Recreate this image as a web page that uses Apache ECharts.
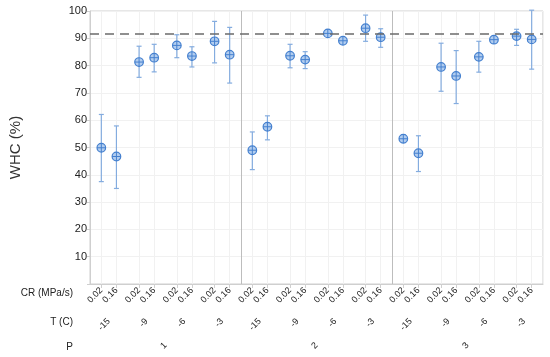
<!DOCTYPE html>
<html>
<head>
<meta charset="utf-8">
<script src="https://cdn.jsdelivr.net/npm/echarts@6/dist/echarts.min.js"></script>
<style>html,body{margin:0;padding:0;background:#fff;}#c{width:550px;height:357px;}</style>
</head>
<body>
<div id="c"></div>
<script>
// ---- data ----
const pLevels = ['1', '2', '3'];
const tLevels = ['-15', '-9', '-6', '-3'];
const crLevels = ['0.02', '0.16'];
const yTicks = [10, 20, 30, 40, 50, 60, 70, 80, 90, 100];
const refLine = 91.5;
const whcMean = [49.9, 46.7, 81.3, 82.9, 87.4, 83.5, 88.9, 84.0,
                 49.0, 57.6, 83.6, 82.2, 91.8, 89.1, 93.7, 90.4,
                 53.2, 47.9, 79.5, 76.2, 83.2, 89.5, 90.8, 89.6];
const whcLow  = [37.5, 35.0, 75.7, 77.7, 82.9, 79.5, 81.0, 73.6,
                 41.9, 52.8, 79.2, 78.9, 90.8, 88.3, 88.9, 86.7,
                 51.8, 41.2, 70.6, 66.1, 77.6, 88.3, 87.4, 78.7];
const whcHigh = [62.1, 57.9, 87.1, 87.8, 91.3, 86.9, 96.2, 94.0,
                 55.7, 61.6, 87.8, 85.1, 92.8, 89.9, 98.5, 93.5,
                 54.6, 54.3, 88.2, 85.5, 88.9, 90.7, 93.3, 100.3];

// ---- axis structures built from the categories ----
const SUB = 5; // sub-slots per T group
const nGroups = pLevels.length * tLevels.length;
const crSlots = [];   // 60 slot labels
for (let g = 0; g < nGroups; g++) {
  for (let s = 0; s < SUB; s++) {
    crSlots.push(s === 1 ? crLevels[0] : (s === 3 ? crLevels[1] : ''));
  }
}
const tCats = [];
pLevels.forEach(() => tLevels.forEach(t => tCats.push(t)));
const fineCats = [];
for (let i = 0; i < nGroups * SUB * 2; i++) fineCats.push('f' + i);

const points = [];
let k = 0;
pLevels.forEach((p, pi) => {
  tLevels.forEach((t, ti) => {
    crLevels.forEach((c, ci) => {
      const g = pi * tLevels.length + ti;
      const slot = g * SUB + (ci === 0 ? 1 : 3);
      points.push([slot, whcMean[k], whcLow[k], whcHigh[k]]);
      k++;
    });
  });
});

const FONT = "'Liberation Sans', Arial, sans-serif";
const errColor = '#84acdf';
const mkStroke = '#4580cf';
const mkFill = '#b2cdef';

const chart = echarts.init(document.getElementById('c'), null, {renderer: 'canvas'});
chart.setOption({
  animation: false,
  textStyle: {fontFamily: FONT},
  grid: {left: 88, right: 7, top: 11, bottom: 73, show: true, borderColor: '#cfcfcf', borderWidth: 1},
  xAxis: [
    { // CR axis (slot positions)
      type: 'category', data: crSlots.map((v, i) => 's' + i), position: 'bottom',
      axisLine: {show: true, lineStyle: {color: '#cfcfcf'}},
      axisTick: {show: true, alignWithLabel: true, length: 4, lineStyle: {color: '#cfcfcf'},
                 interval: (i) => crSlots[i] !== ''},
      axisLabel: {interval: 0, rotate: 45, fontSize: 9, color: '#222', margin: 5,
                  formatter: (v, i) => crSlots[i]},
      splitLine: {show: false}
    },
    { // T axis
      type: 'category', data: tCats, position: 'bottom', offset: 28,
      axisLine: {show: false}, axisTick: {show: false},
      axisLabel: {interval: 0, rotate: 45, fontSize: 9, color: '#222', margin: 8}
    },
    { // P axis, with panel dividers
      type: 'category', data: pLevels, position: 'bottom', offset: 52,
      axisLine: {show: false}, axisTick: {show: false},
      axisLabel: {interval: 0, rotate: 45, fontSize: 9, color: '#222', margin: 8},
      splitLine: {show: true, lineStyle: {color: '#bdbdbd', width: 1}}
    },
    { // fine vertical grid at point positions
      type: 'category', data: fineCats, position: 'top',
      axisLine: {show: false}, axisTick: {show: false}, axisLabel: {show: false},
      splitLine: {show: true, interval: (i) => (i % 10 === 3 || i % 10 === 7),
                  lineStyle: {color: '#f1f1f1', width: 1}}
    }
  ],
  yAxis: {
    type: 'value', min: 0, max: 100, interval: 10,
    name: 'WHC (%)', nameLocation: 'middle', nameGap: 67,
    nameTextStyle: {fontSize: 15, color: '#333', fontFamily: FONT},
    axisLine: {show: true, lineStyle: {color: '#cfcfcf'}},
    axisTick: {show: true, length: 3, lineStyle: {color: '#cfcfcf'}},
    axisLabel: {fontSize: 11, color: '#222', margin: 3,
                formatter: (v) => yTicks.indexOf(v) >= 0 ? String(v) : ''},
    splitLine: {show: true, lineStyle: {color: '#f1f1f1'}}
  },
  graphic: [
    {type: 'text', right: 477, top: 288, style: {text: 'CR (MPa/s)', font: '10px ' + FONT, fill: '#222', textAlign: 'right'}},
    {type: 'text', right: 477, top: 317, style: {text: 'T (C)', font: '10px ' + FONT, fill: '#222', textAlign: 'right'}},
    {type: 'text', right: 477, top: 342, style: {text: 'P', font: '10px ' + FONT, fill: '#222', textAlign: 'right'}}
  ],
  series: [{
    type: 'custom',
    xAxisIndex: 0, yAxisIndex: 0,
    data: points,
    encode: {x: 0, y: [1, 2, 3]},
    clip: false,
    renderItem: function (params, api) {
      const x = api.value(0);
      const pm = api.coord([x, api.value(1)]);
      const pl = api.coord([x, api.value(2)]);
      const ph = api.coord([x, api.value(3)]);
      const cap = 2.5, r = 4.3;
      const es = {stroke: errColor, lineWidth: 1.2};
      const ms = {stroke: mkStroke, lineWidth: 1};
      return {
        type: 'group',
        children: [
          {type: 'line', shape: {x1: pl[0], y1: pl[1], x2: ph[0], y2: ph[1]}, style: es},
          {type: 'line', shape: {x1: pl[0] - cap, y1: pl[1], x2: pl[0] + cap, y2: pl[1]}, style: es},
          {type: 'line', shape: {x1: ph[0] - cap, y1: ph[1], x2: ph[0] + cap, y2: ph[1]}, style: es},
          {type: 'circle', shape: {cx: pm[0], cy: pm[1], r: r}, style: {fill: mkFill, stroke: mkStroke, lineWidth: 1.2}},
          {type: 'line', shape: {x1: pm[0] - r, y1: pm[1], x2: pm[0] + r, y2: pm[1]}, style: ms},
          {type: 'line', shape: {x1: pm[0], y1: pm[1] - r, x2: pm[0], y2: pm[1] + r}, style: ms}
        ]
      };
    },
    markLine: {
      silent: true, symbol: 'none', label: {show: false},
      lineStyle: {color: '#6b6b6b', type: [9, 6], width: 1.5},
      data: [{yAxis: refLine}]
    }
  }]
});
</script>
</body>
</html>
